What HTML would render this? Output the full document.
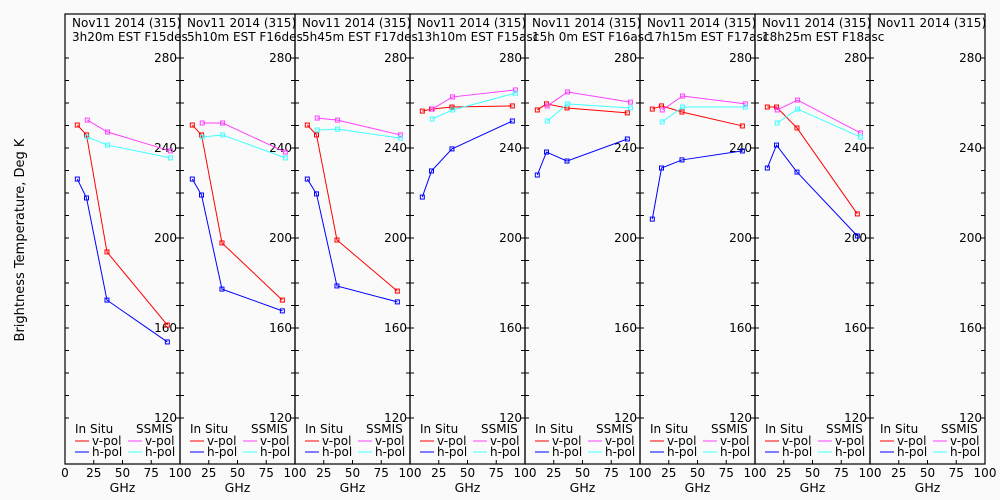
<!DOCTYPE html>
<html><head><meta charset="utf-8"><style>
body{margin:0;background:#fafafa}
svg{display:block;font-family:"DejaVu Sans","Liberation Sans",sans-serif}
</style></head><body>
<svg id="c" width="1000" height="500">
<rect width="1000" height="500" fill="#fafafa"/>
<text x="24" y="240" font-size="13" text-anchor="middle" transform="rotate(-90 24 240)">Brightness Temperature, Deg K</text>
</svg>
<script>
const titles2=["3h20m EST F15des","5h10m EST F16des","5h45m EST F17des","13h10m EST F15asc","15h 0m EST F16asc","17h15m EST F17asc","18h25m EST F18asc",""];
const insituFreq=[10.7,18.7,36.5,89];
const ssmisFreq=[19.35,37,91.65];
const insituV=[[250.2,245.8,193.8,161.3],[250.2,245.8,197.8,172.4],[250.2,245.8,199.1,176.4],[256.4,257.3,258.2,258.7],[256.9,259.6,257.8,255.6],[257.3,258.7,256,249.8],[258.2,258.2,248.9,210.7],[]];
const insituH=[[226.2,217.8,172.4,153.8],[226.2,219.1,177.3,167.6],[226.2,219.6,178.7,171.6],[218.2,229.8,239.6,252],[228,238.2,234.2,244],[208.4,231.1,234.7,238.7],[231.1,241.3,229.3,200.9],[]];
const ssmisV=[[252.4,247.1,238.7],[251.1,251.1,238.2],[253.3,252.4,245.8],[257.3,262.7,265.8],[258.7,264.9,260.4],[256.9,263.1,259.6],[256.9,261.3,246.7],[]];
const ssmisH=[[244.9,241.3,235.6],[244.9,245.8,235.6],[248,248.4,244.4],[252.9,256.9,264.4],[252,259.6,257.8],[251.6,258.2,258.2],[251.1,257.3,244.9],[]];
const yTicks=[120,160,200,240,280];
const xTicks=[0,25,50,75,100];
const NS="http://www.w3.org/2000/svg";
const svg=document.getElementById('c');
const L0=65,PW=115,TOP=14,BOT=464;
function yS(t){return 58+(280-t)*2.25;}
function xS(p,f){return L0+p*PW+f*1.15;}
function mk(tag,attrs,parent){const e=document.createElementNS(NS,tag);for(const k in attrs)e.setAttribute(k,attrs[k]);(parent||svg).appendChild(e);return e;}
function txt(x,y,s,size,anchor,parent){const e=mk('text',{x:x,y:y,'font-size':size,'text-anchor':anchor||'start',fill:'#000'},parent);e.textContent=s;return e;}
function series(p,freqs,vals,color,name){
  const g=mk('g',{});
  
  
  if(!vals.length)return;
  mk('polyline',{points:vals.map((v,i)=>xS(p,freqs[i])+','+yS(v)).join(' '),fill:'none',stroke:color,'stroke-width':1},g);
  vals.forEach((v,i)=>{const r=mk('rect',{x:xS(p,freqs[i])-2,y:yS(v)-2,width:4,height:4,fill:'none',stroke:color,'stroke-width':1},g);
    
    });
}
for(let p=0;p<8;p++){
  const g=mk('g',{});
  
  
  const L=L0+p*PW,R=L+PW;
  mk('rect',{x:L,y:TOP,width:PW,height:BOT-TOP,fill:'none',stroke:'#000','stroke-width':1.2},g);
  for(let t=120;t<=280;t+=10){const y=yS(t);
    mk('line',{x1:L,y1:y,x2:L+4,y2:y,stroke:'#000'},g);
    mk('line',{x1:R-4,y1:y,x2:R,y2:y,stroke:'#000'},g);}
  yTicks.forEach(t=>{const e=txt(R-3,yS(t)+4,String(t),12,'end',g);
    
    });
  xTicks.forEach(f=>{ if(f===0&&p>0)return;
    const x=xS(p,f);mk('line',{x1:x,y1:BOT,x2:x,y2:BOT-4,stroke:'#000'},g);
    const e=txt(x,BOT+13,String(f),12,'middle',g);
    
    });
  const xt=txt(L+PW/2,BOT+28,'GHz',12.5,'middle',g);
  
  
  const t1=txt(L+7,27,'Nov11 2014 (315)',12,'start',g);
  
  
  if(titles2[p]){const t2=txt(L+7,41,titles2[p],12,'start',g);
    
    }
  const lg=mk('g',{},g);
  
  
  txt(L+10,433,'In Situ',12,'start',lg);txt(L+71,433,'SSMIS',12,'start',lg);
  [['#ff0000',445,'v-pol',0],['#0000ff',456,'h-pol',0],['#ff40ff',445,'v-pol',1],['#40ffff',456,'h-pol',1]].forEach(a=>{
    const x0=L+10+a[3]*53;mk('line',{x1:x0,y1:a[1]-4,x2:x0+14,y2:a[1]-4,stroke:a[0]},lg);txt(x0+17,a[1],a[2],12,'start',lg);});
  series(p,insituFreq,insituV[p],'#ff0000','insitu-vpol-line');
  series(p,insituFreq,insituH[p],'#0000ff','insitu-hpol-line');
  series(p,ssmisFreq,ssmisV[p],'#ff40ff','ssmis-vpol-line');
  series(p,ssmisFreq,ssmisH[p],'#40ffff','ssmis-hpol-line');
}
</script>
</body></html>
